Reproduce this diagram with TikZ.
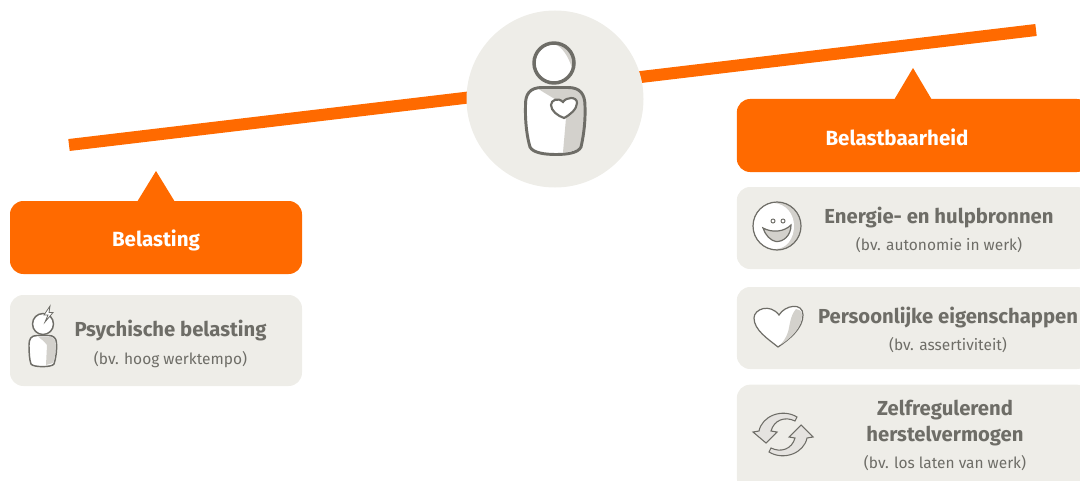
\documentclass[tikz,border=0pt]{standalone}
\usepackage{fontspec}
\setmainfont{Fira Sans}
\usepackage{xcolor}
\usetikzlibrary{positioning}
\definecolor{oranje}{HTML}{FF6A00}
\definecolor{vak}{HTML}{EEEDE8}
\definecolor{tekst}{HTML}{6E6D67}
\definecolor{schaduw}{HTML}{D3D1CC}
\newcommand{\lijfpad}{(542,87.5) .. controls (530,87.5) and (525,94) .. (525.5,106)
  .. controls (525,122) and (527,137) .. (530,147) .. controls (533,153) and (545,154.5) .. (556,154.5)
  .. controls (567,154.5) and (578,153) .. (581,147) .. controls (584,134) and (585.5,120) .. (585,106)
  .. controls (585,94) and (580,87.5) .. (568,87.5) -- cycle}
\newcommand{\lijfjepad}{(37,335.5) .. controls (31,335.5) and (29,339) .. (29,345) .. controls (29,353) and (29.5,360) .. (31,364)
  .. controls (33,367.5) and (52,367.5) .. (54,364) .. controls (56,358) and (57,350) .. (56.5,343)
  .. controls (56.5,338) and (53,335.5) .. (49,335.5) -- cycle}

\begin{document}
\begin{tikzpicture}[
  x=0.75pt, y=-0.75pt,
  kop/.style={rectangle, rounded corners=10pt, fill=oranje, minimum height=54.75pt},
  koptekst/.style={text=white, inner sep=0pt, font=\fontsize{15.4}{18}\selectfont\bfseries},
  vakje/.style={rectangle, rounded corners=10pt, fill=vak, minimum width=219pt},
  titel/.style={text=tekst, align=center, inner sep=0pt,
                font=\fontsize{15.2}{20}\selectfont\bfseries},
  sub/.style={text=tekst, inner sep=0pt, font=\fontsize{11.6}{13}\selectfont},
  punt/.style={fill=oranje},
  lijn/.style={draw=tekst, line width=1.1pt},
  dun/.style={draw=tekst, line width=0.8pt},
  pijl/.style={draw=tekst, line width=0.8pt, fill=schaduw!60!white},
  vlak/.style={fill=schaduw}
]
\clip (0,0) rectangle (1080,481);

% balans
\coordinate (links) at (69,145);
\coordinate (rechts) at (1036,30);
\draw[oranje, line width=9pt] (links) -- (rechts);
\node[circle, fill=vak, minimum size=132.75pt, inner sep=0pt] (midden) at (555,99) {};

% persoon
\fill[white] (554,63) circle (20);
\fill[vlak] (554,44) .. controls (565,44) and (574,53) .. (574,68) .. controls (571,56) and (564,48) .. (554,44) -- cycle;
\fill[vlak] (556,43) .. controls (568,44) and (575,54) .. (573,72) .. controls (570,60) and (566,52) .. (556,43) -- cycle;
\draw[draw=tekst, line width=2.6pt] (554,63) circle (20);
\fill[white] \lijfpad;
\fill[vlak] (538,88.5) -- (567,88.5) .. controls (579,88.5) and (584,95) .. (584,106)
  .. controls (584.5,120) and (583,134) .. (580,146) .. controls (578,150) and (572,151.5) .. (563,152.5)
  -- (566,118) -- (572,113) .. controls (560,100) and (548,96) .. (538,88.5);
\draw[draw=tekst, line width=2.2pt] \lijfpad;
\draw[draw=tekst, line width=1.6pt, fill=white] (564,118) .. controls (558,116) and (551,111) .. (551,105)
  .. controls (551,100) and (558,97) .. (563,102) .. controls (566,97) and (577,96) .. (577,103)
  .. controls (577,109) and (570,115) .. (564,118) -- cycle;

% links
\node[kop, minimum width=219pt] (belasting) at (156,237.5) {};
\node[koptekst] (belastingtitel) at (156,240) {Belasting};
\fill[punt] (156,171) -- (175,202) -- (137,202) -- cycle;
\node[vakje, minimum height=68.25pt] (psychisch) at (156,340.5) {};
\node[titel] (psychtitel) at (170.5,331) {Psychische belasting};
\node[sub] (psychsub) at (170.5,360) {(bv. hoog werktempo)};

% icoon psychisch
\draw[lijn, fill=white] (43,324) circle (10.5);
\draw[dun, line width=0.6pt, fill=white] (50,306) -- (44,315) -- (48,315) -- (45,322) -- (53,312.5) -- (49,312.5) -- cycle;
\fill[white] \lijfjepad;
\fill[vlak] (38,336.5) -- (48,336.5) .. controls (53,336.5) and (55.5,339) .. (55.5,344)
  .. controls (56,350) and (55,358) .. (53,363) -- (46,365) -- (47,345) .. controls (44,341) and (41,339) .. (38,336.5);
\draw[lijn] \lijfjepad;

% rechts
\node[kop, minimum width=265pt] (belastbaar) at (913.5,135.5) {};
\node[koptekst] (belastbaartitel) at (897,137.5) {Belastbaarheid};
\fill[punt] (913,68) -- (932,100) -- (894,100) -- cycle;

\node[vakje, minimum width=265pt, minimum height=61.5pt] (energie) at (913.5,228) {};
\node[titel] (energietitel) at (939,217.5) {Energie- en hulpbronnen};
\node[sub] (energiesub) at (939,245) {(bv. autonomie in werk)};

\node[vakje, minimum width=265pt, minimum height=61.5pt] (persoon) at (913.5,328) {};
\node[titel] (persoontitel) at (948,317.5) {Persoonlijke eigenschappen};
\node[sub] (persoonsub) at (948,345) {(bv. assertiviteit)};

\node[vakje, minimum width=265pt, minimum height=80pt] (zelf) at (913.5,438) {};
\node[titel] (zelftitel) at (945,423) {Zelfregulerend\\herstelvermogen};
\node[sub] (zelfsub) at (945,463) {(bv. los laten van werk)};

% smiley
\fill[vlak] (777,226) circle (24);
\fill[white] (774,203) .. controls (761,204) and (753.5,215) .. (753.5,226) .. controls (753.5,238) and (763,249) .. (775,249)
  .. controls (787,249) and (794,238) .. (794,226) .. controls (794,214) and (786,204) .. (774,203) -- cycle;
\draw[draw=tekst, line width=0.9pt] (777,226) circle (24);
\draw[draw=tekst, line width=0.7pt, fill=white] (773,221) circle (2) (783,221) circle (2);
\draw[draw=tekst, line width=0.9pt, fill=schaduw] (763,228) .. controls (772,233) and (784,232) .. (791,225)
  .. controls (791,236) and (783,242) .. (776,241.5) .. controls (771,241) and (765,235) .. (763,228) -- cycle;

% hart
\draw[draw=tekst, line width=0.9pt, fill=white] (778,347) .. controls (768,339) and (754,330) .. (754,318)
  .. controls (754,309) and (770,303) .. (779,315) .. controls (785,305) and (803,302) .. (803,315)
  .. controls (803,328) and (790,339) .. (778,347) -- cycle;
\fill[vlak] (780,345) .. controls (790,339) and (802,328) .. (802,315) .. controls (802,311) and (799,309) .. (796,309)
  .. controls (790,316) and (790,325) .. (788,332) .. controls (786,338) and (783,342) .. (780,345) -- cycle;

% pijlen
\draw[pijl] (797,417) .. controls (782,408) and (762,416) .. (759,431) -- (753,432) -- (766,443) -- (777,432) -- (771,431)
  .. controls (774,420) and (785,416) .. (795,421) -- cycle;
\draw[pijl] (769,452) .. controls (784,461) and (804,453) .. (807,438) -- (813,437) -- (801,425) -- (789,437) -- (795,438)
  .. controls (792,449) and (781,453) .. (771,448) -- cycle;
\end{tikzpicture}
\end{document}
